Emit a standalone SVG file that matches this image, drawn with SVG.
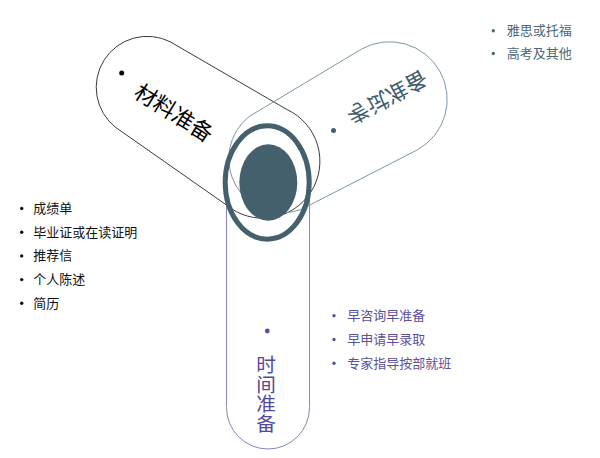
<svg xmlns="http://www.w3.org/2000/svg" width="600" height="458" viewBox="0 0 600 458">
<style>
  .cjk { font-family: "Noto Sans CJK SC", "Liberation Sans", sans-serif; }
  .cap { fill: none; stroke-width: 1; }
  .lbl { font-size: 22px; text-anchor: middle; dominant-baseline: central; }
  .li { font-size: 13px; }
</style>
<rect width="600" height="458" fill="#ffffff"/>

<g id="node-shijian">
  <path class="cap" stroke="#8a83bd" d="M226.5,200 L226.5,407.5 A41.5,41.5 0 0 0 309.5,407.5 L309.5,200"/>
  <circle cx="267.3" cy="331" r="2.4" fill="#5a4f9c"/>
  <text class="cjk" x="266" y="355" font-size="19.6" fill="#54489a" style="writing-mode: vertical-rl;">时间准备</text>
</g>

<g id="node-cailiao">
  <path class="cap" stroke="#3c3c3c" d="M170.4,41.9 L286.9,109.5 A57,57 0 1 1 226.3,204.9 L115.8,127.5 A51,51 0 0 1 170.4,41.9 Z"/>
  <circle cx="121.7" cy="73" r="2.5" fill="#000000"/>
  <text class="cjk lbl" fill="#000000" transform="translate(175,111) rotate(32)">材料准备</text>
</g>

<g id="node-kaoshi">
  <path class="cap" stroke="#7d97a4" d="M361.6,49 L249.1,116.5 A54,54 0 0 0 300.9,209.6 L417.5,149.8 A57.6,57.6 0 1 0 361.6,49 Z"/>
  <circle cx="333.5" cy="130.5" r="2.5" fill="#44606c"/>
  <text class="cjk lbl" fill="#3e5c6a" transform="matrix(0.883 -0.469 -0.469 -0.883 388 99)">考试准备</text>
</g>

<g id="node-center">
  <ellipse cx="267.2" cy="182.5" rx="42" ry="56.7" fill="none" stroke="#44606c" stroke-width="5"/>
  <ellipse cx="268.3" cy="182.5" rx="29" ry="38.2" fill="#44606c"/>
</g>

<g id="list-cailiao" class="cjk li" fill="#111111">
  <circle cx="21.7" cy="208.5" r="1.7"/>
  <text x="33.3" y="213">成绩单</text>
  <circle cx="21.7" cy="232.2" r="1.7"/>
  <text x="33.3" y="236.7">毕业证或在读证明</text>
  <circle cx="21.7" cy="255.9" r="1.7"/>
  <text x="33.3" y="260.4">推荐信</text>
  <circle cx="21.7" cy="279.6" r="1.7"/>
  <text x="33.3" y="284.1">个人陈述</text>
  <circle cx="21.7" cy="303.3" r="1.7"/>
  <text x="33.3" y="307.8">简历</text>
</g>

<g id="list-shijian" class="cjk li" fill="#5b509c">
  <circle cx="334" cy="315.7" r="1.7"/>
  <text x="347.3" y="320.2">早咨询早准备</text>
  <circle cx="334" cy="339.5" r="1.7"/>
  <text x="347.3" y="344">早申请早录取</text>
  <circle cx="334" cy="363.3" r="1.7"/>
  <text x="347.3" y="367.8">专家指导按部就班</text>
</g>

<g id="list-kaoshi" class="cjk li" fill="#4a6876">
  <circle cx="493.3" cy="30.7" r="1.7"/>
  <text x="506.7" y="35.2">雅思或托福</text>
  <circle cx="493.3" cy="53.5" r="1.7"/>
  <text x="506.7" y="58">高考及其他</text>
</g>
</svg>
